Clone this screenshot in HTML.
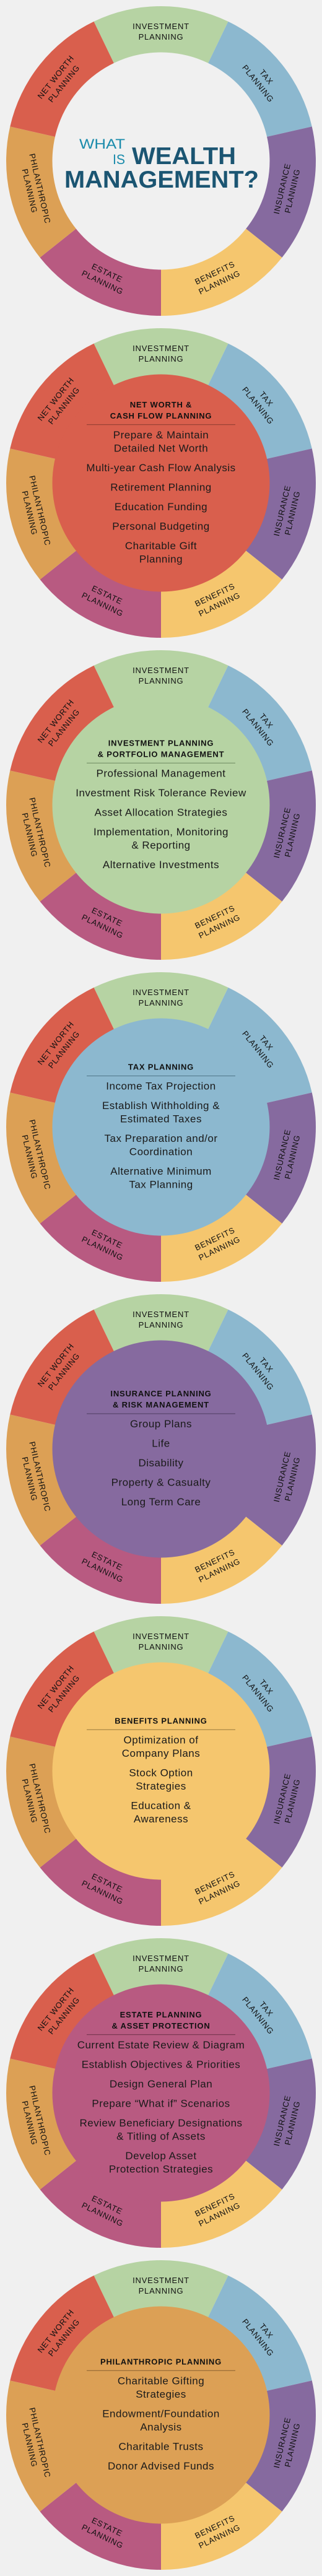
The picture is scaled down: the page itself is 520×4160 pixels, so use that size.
<!DOCTYPE html>
<html><head><meta charset="utf-8">
<style>
html,body{margin:0;padding:0;background:#f0f0f0;}
svg{display:block;}
text{font-family:"Liberation Sans",sans-serif;}
</style></head>
<body>
<svg id="root" width="520" height="4160" viewBox="0 0 520 4160" xmlns="http://www.w3.org/2000/svg">
<rect x="0" y="0" width="520" height="4160" fill="#f0f0f0"/>
</svg>
<script>
const segNames = ["investment","tax","insurance","benefits","estate","philanthropic","net-worth"];
const segLine1 = ["INVESTMENT","TAX","INSURANCE","BENEFITS","ESTATE","PHILANTHROPIC","NET WORTH"];
const segLine2 = ["PLANNING","PLANNING","PLANNING","PLANNING","PLANNING","PLANNING","PLANNING"];
const segColors = ["#b6d3a3","#8cb8cf","#866a9f","#f5c66e","#b85a81","#dca055","#d95f4d"];
const lineColors = ["#6c8a60","#4f7587","#4e3c60","#9a7a3c","#6e3049","#8a6030","#8a3a2e"];
const wheelActive = [-1,6,0,1,2,3,4,5];
const titles = [
 [],
 ["NET WORTH &","CASH FLOW PLANNING"],
 ["INVESTMENT PLANNING","& PORTFOLIO MANAGEMENT"],
 ["TAX PLANNING"],
 ["INSURANCE PLANNING","& RISK MANAGEMENT"],
 ["BENEFITS PLANNING"],
 ["ESTATE PLANNING","& ASSET PROTECTION"],
 ["PHILANTHROPIC PLANNING"]
];
const items = [
 [],
 [["Prepare & Maintain","Detailed Net Worth"],["Multi-year Cash Flow Analysis"],["Retirement Planning"],["Education Funding"],["Personal Budgeting"],["Charitable Gift","Planning"]],
 [["Professional Management"],["Investment Risk Tolerance Review"],["Asset Allocation Strategies"],["Implementation, Monitoring","& Reporting"],["Alternative Investments"]],
 [["Income Tax Projection"],["Establish Withholding &","Estimated Taxes"],["Tax Preparation and/or","Coordination"],["Alternative Minimum","Tax Planning"]],
 [["Group Plans"],["Life"],["Disability"],["Property & Casualty"],["Long Term Care"]],
 [["Optimization of","Company Plans"],["Stock Option","Strategies"],["Education &","Awareness"]],
 [["Current Estate Review & Diagram"],["Establish Objectives & Priorities"],["Design General Plan"],["Prepare \u201cWhat if\u201d Scenarios"],["Review Beneficiary Designations","& Titling of Assets"],["Develop Asset","Protection Strategies"]],
 [["Charitable Gifting","Strategies"],["Endowment/Foundation","Analysis"],["Charitable Trusts"],["Donor Advised Funds"]]
];

const NS="http://www.w3.org/2000/svg";
const root=document.getElementById('root');
const R=250, RI=175, STEP=360/7;
function pt(cx,cy,r,a){const t=a*Math.PI/180;return [cx+r*Math.sin(t),cy-r*Math.cos(t)];}
function mk(tag,parent){const e=document.createElementNS(NS,tag);parent.appendChild(e);return e;}

for(let w=0;w<8;w++){
  const cx=260, cy=260+520*w;
  const g=mk('g',root);
  
  
  for(let i=0;i<7;i++){
    const a0=i*STEP-STEP/2, a1=i*STEP+STEP/2;
    const p0=pt(cx,cy,R,a0),p1=pt(cx,cy,R,a1),q1=pt(cx,cy,RI,a1),q0=pt(cx,cy,RI,a0);
    const p=mk('path',g);
    p.setAttribute('d',`M${p0[0]},${p0[1]} A${R},${R} 0 0 1 ${p1[0]},${p1[1]} L${q1[0]},${q1[1]} A${RI},${RI} 0 0 0 ${q0[0]},${q0[1]} Z`);
    p.setAttribute('fill',segColors[i]);
    
    
  }
  const act=wheelActive[w];
  const c=mk('circle',g);
  c.setAttribute('cx',cx);c.setAttribute('cy',cy);c.setAttribute('r',RI+0.5);
  c.setAttribute('fill',act<0?'#f0f0f0':segColors[act]);
  
  
  for(let i=0;i<7;i++){
    const a=i*STEP;
    const m=pt(cx,cy,209,a);
    const rot=Math.cos(a*Math.PI/180)>0?a:a-180;
    const tg=mk('g',g);
    tg.setAttribute('transform',`translate(${m[0]},${m[1]}) rotate(${rot})`);
    
    
    [segLine1[i],segLine2[i]].forEach((s,k)=>{
      const t=mk('text',tg);
      t.setAttribute('x',0);t.setAttribute('y',k===0?-4:13);
      t.setAttribute('text-anchor','middle');
      t.setAttribute('font-size','13');
      t.setAttribute('letter-spacing','0.8');
      t.setAttribute('fill','#111');
      t.textContent=s;
    });
  }
  if(act<0){
    const defs=[["WHAT",128,240,74,22,"#1a8bab",false],["IS",182,265,20,22,"#1a8bab",false],["WEALTH",213,265,168,39,"#1b5572",true],["MANAGEMENT?",104,303,314,39,"#1b5572",true]];
    defs.forEach(d=>{
      const t=mk('text',g);
      t.setAttribute('x',d[1]);t.setAttribute('y',cy-260+d[2]);
      t.setAttribute('font-size',d[4]);
      t.setAttribute('textLength',d[3]);
      t.setAttribute('lengthAdjust','spacingAndGlyphs');
      t.setAttribute('fill',d[5]);
      if(d[6])t.setAttribute('font-weight','bold');
      
      
      t.textContent=d[0];
    });
    continue;
  }
  // content block
  const tl=titles[w], it=items[w];
  let nLines=0; it.forEach(x=>nLines+=x.length);
  const h=10+(tl.length-1)*18+10+22+(it.length-1)*31.5+(nLines-it.length)*21.5;
  let y=cy-2-h/2+10;
  const cg=mk('g',g);
  
  
  tl.forEach(s=>{
    const t=mk('text',cg);
    t.setAttribute('x',cx);t.setAttribute('y',y);
    t.setAttribute('text-anchor','middle');
    t.setAttribute('font-size','13');
    t.setAttribute('font-weight','bold');
    t.setAttribute('letter-spacing','0.8');
    t.setAttribute('fill','#111');
    
    
    t.textContent=s; y+=18;
  });
  y-=18; y+=10;
  const ln=mk('line',cg);
  ln.setAttribute('x1',140);ln.setAttribute('x2',380);ln.setAttribute('y1',y);ln.setAttribute('y2',y);
  ln.setAttribute('stroke',lineColors[act]);ln.setAttribute('stroke-width','1');
  
  
  y+=22;
  it.forEach(lines=>{
    lines.forEach((s,k)=>{
      const t=mk('text',cg);
      t.setAttribute('x',cx);t.setAttribute('y',y);
      t.setAttribute('text-anchor','middle');
      t.setAttribute('font-size','17');
      t.setAttribute('letter-spacing','0.5');
      t.setAttribute('fill','#1a1a1a');
      
      
      t.textContent=s;
      y+= (k<lines.length-1)?21.5:31.5;
    });
  });
}
</script>
</body></html>
